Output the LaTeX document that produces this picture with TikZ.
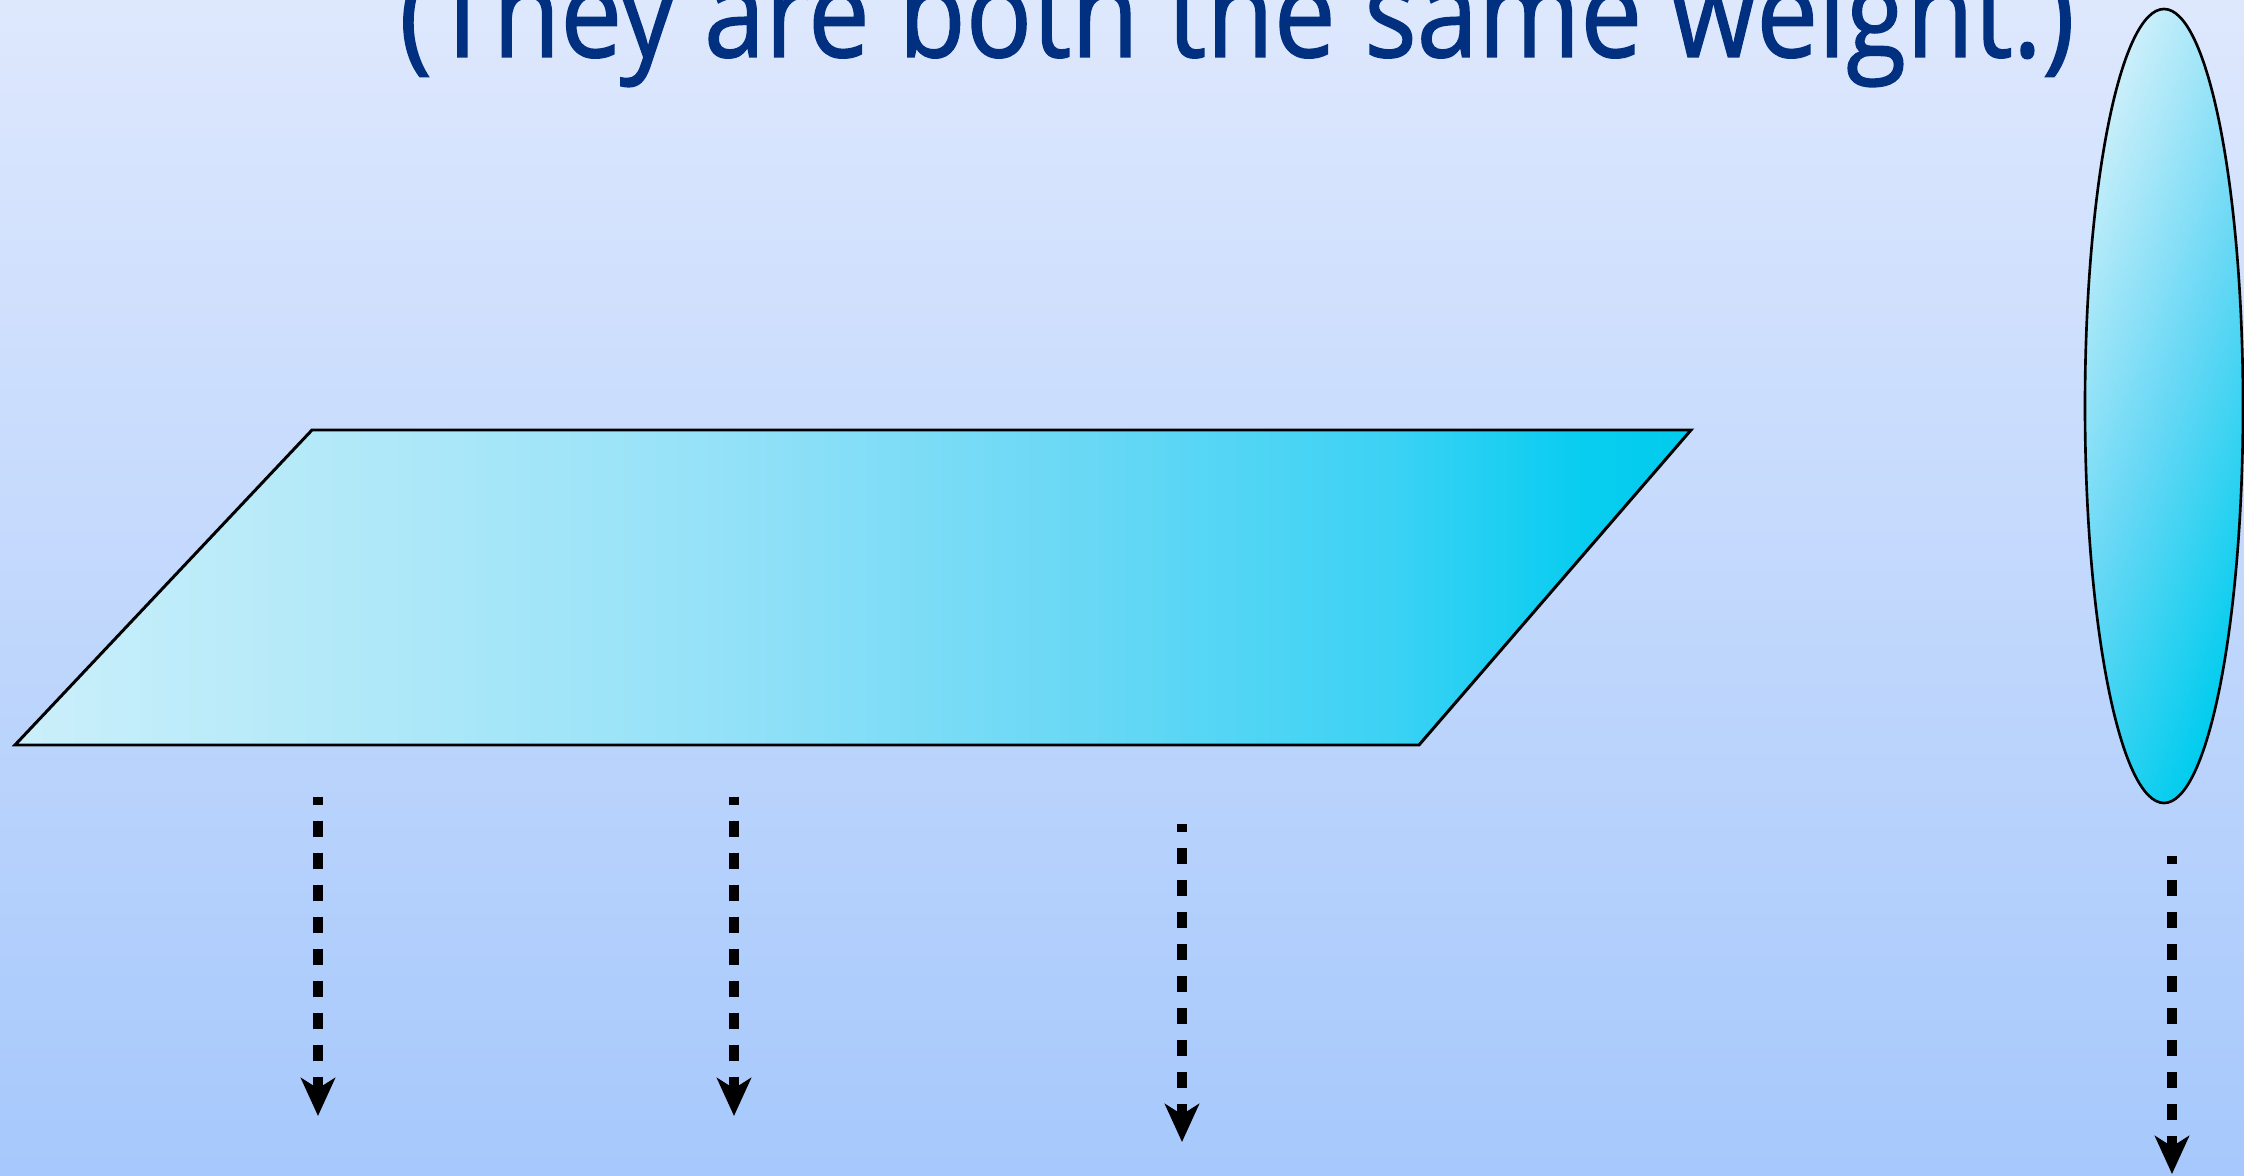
\documentclass[tikz,border=0pt]{standalone}
\usepackage{fontspec}
\newfontfamily\titlefont[FakeBold=1.2]{Open Sans}
\usetikzlibrary{arrows.meta}
\definecolor{bgtop}{HTML}{DEE8FD}
\definecolor{bgbot}{HTML}{A6C8FC}
\definecolor{titleblue}{HTML}{00307F}
\definecolor{pA}{RGB}{203,239,250}
\definecolor{pB}{RGB}{150,226,248}
\definecolor{pC}{RGB}{104,216,245}
\definecolor{pD}{RGB}{60,210,244}
\definecolor{pE}{RGB}{10,205,240}
\definecolor{pF}{RGB}{0,204,238}
\pgfdeclarehorizontalshading{paralshade}{100bp}{color(0bp)=(pA); color(25bp)=(pA); color(45.5bp)=(pB); color(57bp)=(pC); color(66bp)=(pD); color(71.5bp)=(pE); color(75bp)=(pF); color(100bp)=(pF)}
\pgfdeclarehorizontalshading{ellshade}{100bp}{color(0bp)=(pA); color(40.8bp)=(pA); color(50bp)=(pC); color(59.2bp)=(pF); color(100bp)=(pF)}
\tikzset{
  outline/.style={draw=black, line width=0.85pt, line join=miter},
  droparrow/.style={draw=black, line width=2.6pt, dash pattern=on 4.55pt off 4.55pt, dash phase=2.3pt,
    -{Stealth[length=10.8pt, width=9.7pt, inset=3pt]}},
  titletext/.style={font=\titlefont\fontsize{31pt}{36pt}\selectfont, text=titleblue, inner sep=0pt}
}
\begin{document}
\begin{tikzpicture}[x=0.01cm, y=-0.01cm]
\useasboundingbox (0,0) rectangle (2244,1176);
\clip (0,0) rectangle (2244,1176);
\fill[top color=bgtop, bottom color=bgbot] (0,0) rectangle (2244,1176);
% title
\node[titletext, anchor=base] (title) at (1237,57) {\scalebox{1.01}[1.14]{(They are both the same weight.)}};
% parallelogram (flat plate)
\coordinate (ptl) at (312,430);
\coordinate (ptr) at (1691,430);
\coordinate (pbr) at (1419,745);
\coordinate (pbl) at (15,745);
\path[shading=paralshade, outline] (ptl) -- (ptr) -- (pbr) -- (pbl) -- cycle;
% upright ellipse
\coordinate (ellc) at (2164,406);
\begin{scope}
  \clip (ellc) ellipse [x radius=79, y radius=397];
  \shade[shading=ellshade, shading angle=-22] (1714,-44) rectangle (2614,856);
\end{scope}
\draw[outline, line width=0.75pt] (ellc) ellipse [x radius=79, y radius=397];
% dashed drop arrows
\coordinate (a1s) at (318,797);  \coordinate (a1e) at (318,1116);
\coordinate (a2s) at (734,797);  \coordinate (a2e) at (734,1116);
\coordinate (a3s) at (1182,824); \coordinate (a3e) at (1182,1142);
\coordinate (a4s) at (2172,856); \coordinate (a4e) at (2172,1174);
\draw[droparrow] (a1s) -- (a1e);
\draw[droparrow] (a2s) -- (a2e);
\draw[droparrow] (a3s) -- (a3e);
\draw[droparrow] (a4s) -- (a4e);
\end{tikzpicture}
\end{document}
